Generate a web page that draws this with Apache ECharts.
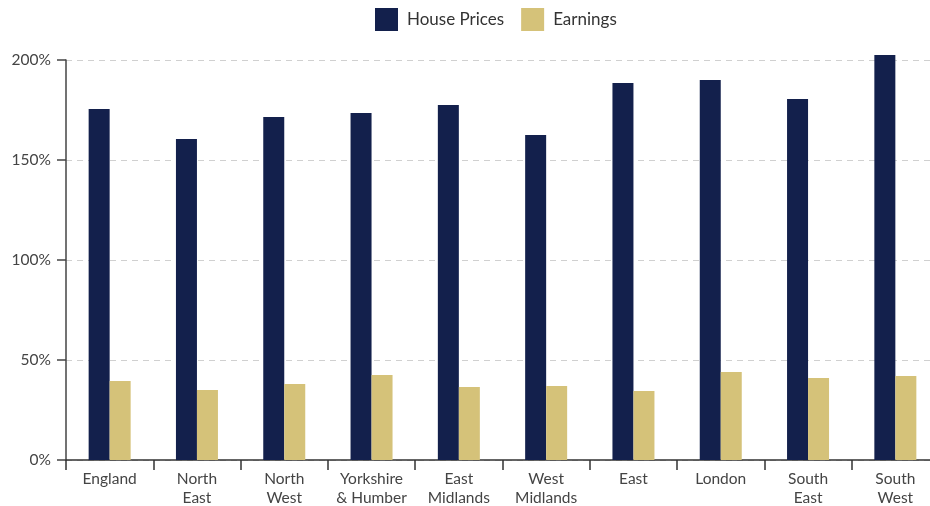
<!DOCTYPE html>
<html>
<head>
<meta charset="utf-8">
<script src="https://cdn.jsdelivr.net/npm/echarts@6/dist/echarts.min.js"></script>
<style>html,body{margin:0;padding:0;background:#fff}#c{width:930px;height:506px}</style>
</head>
<body>
<div id="c"></div>
<script>
var categories = ['England', 'North\nEast', 'North\nWest', 'Yorkshire\n& Humber', 'East\nMidlands', 'West\nMidlands', 'East', 'London', 'South\nEast', 'South\nWest'];
var housePrices = [175.5, 160.5, 171.5, 173.5, 177.5, 162.5, 188.5, 190, 180.5, 202.5];
var earnings = [39.5, 35, 38, 42.5, 36.5, 37, 34.5, 44, 41, 42];
var yTicks = [0, 50, 100, 150, 200];

var FONT = 'Lato, "Open Sans", sans-serif';
var chart = echarts.init(document.getElementById('c'), null, {renderer: 'canvas'});
chart.setOption({
  animation: false,
  textStyle: {fontFamily: FONT},
  legend: {
    top: 3,
    left: 370,
    itemWidth: 23,
    itemHeight: 23,
    itemGap: 17,
    icon: 'rect',
    textStyle: {fontSize: 17, color: '#333', fontFamily: FONT, padding: [0, 0, 0, 4]},
    data: ['House Prices', 'Earnings']
  },
  grid: {left: 66, width: 873, top: 60, bottom: 46, containLabel: false, outerBoundsMode: 'none'},
  xAxis: {
    type: 'category',
    data: categories,
    axisLine: {lineStyle: {color: '#333', width: 1.5}},
    axisTick: {show: true, length: 10, lineStyle: {color: '#333', width: 1.5}},
    axisLabel: {fontSize: 15.5, color: '#444', lineHeight: 19, margin: 9, fontFamily: FONT, interval: 0}
  },
  yAxis: {
    type: 'value',
    min: yTicks[0],
    max: yTicks[yTicks.length - 1],
    interval: 50,
    axisLine: {show: true, lineStyle: {color: '#444', width: 1.5}},
    axisTick: {show: true, length: 9, lineStyle: {color: '#444', width: 1.5}},
    axisLabel: {fontSize: 15.5, color: '#444', margin: 15, fontFamily: FONT, formatter: '{value}%'},
    splitLine: {show: true, lineStyle: {color: '#d0d0d0', type: [6, 5], width: 1}}
  },
  series: [
    {name: 'House Prices', type: 'bar', data: housePrices, barWidth: 21, barGap: '0%', clip: false,
     itemStyle: {color: '#13204c'}},
    {name: 'Earnings', type: 'bar', data: earnings, barWidth: 21, barGap: '0%', clip: false,
     itemStyle: {color: '#d5c279'}}
  ]
});
</script>
</body>
</html>
